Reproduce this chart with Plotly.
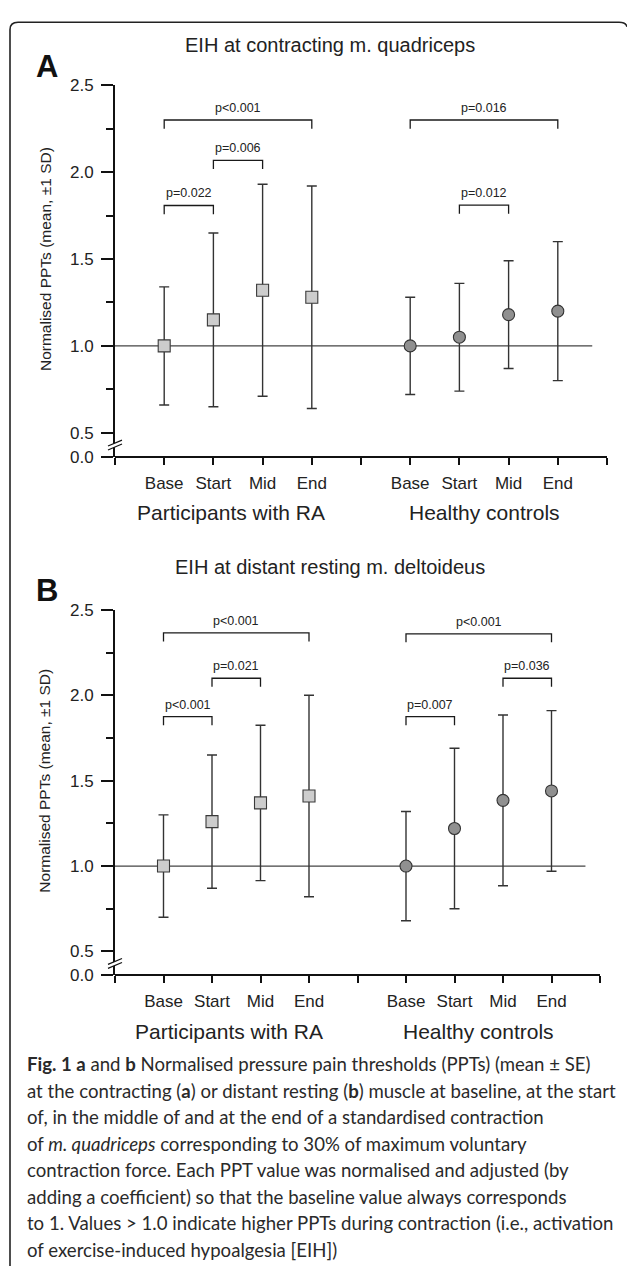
import plotly.graph_objects as go

# ---------------- data ----------------
timepoints = ["Base", "Start", "Mid", "End"]
ra_pos = [1, 2, 3, 4]
hc_pos = [6, 7, 8, 9]
group_names = ["Participants with RA", "Healthy controls"]
group_centers = [2.36, 7.5]

a_title = "EIH at contracting m. quadriceps"
a_ra_mean = [1.00, 1.15, 1.32, 1.28]
a_ra_sd = [0.34, 0.50, 0.61, 0.64]
a_hc_mean = [1.00, 1.05, 1.18, 1.20]
a_hc_sd = [0.28, 0.31, 0.31, 0.40]
a_brackets = [(1, 4, 2.30, "p<0.001"), (2, 3, 2.068, "p=0.006"), (1, 2, 1.808, "p=0.022"),
              (6, 9, 2.30, "p=0.016"), (7, 8, 1.81, "p=0.012")]

b_title = "EIH at distant resting m. deltoideus"
b_ra_mean = [1.00, 1.26, 1.37, 1.41]
b_ra_sd = [0.30, 0.39, 0.455, 0.59]
b_hc_mean = [1.00, 1.22, 1.385, 1.44]
b_hc_sd = [0.32, 0.47, 0.50, 0.47]
b_brackets = [(1, 4, 2.365, "p<0.001"), (2, 3, 2.10, "p=0.021"), (1, 2, 1.875, "p<0.001"),
              (6, 9, 2.36, "p<0.001"), (8, 9, 2.10, "p=0.036"), (6, 7, 1.875, "p=0.007")]

y_ticks = [0.5, 1.0, 1.5, 2.0, 2.5]
y_minor = [0.75, 1.25, 1.75, 2.25]
y_break_ticks = [0.0]
y_title = "Normalised PPTs (mean, \u00b11 SD)"

caption_lines = [
    "<b>Fig. 1 a</b> and <b>b</b> Normalised pressure pain thresholds (PPTs) (mean \u00b1 SE)",
    "at the contracting (<b>a</b>) or distant resting (<b>b</b>) muscle at baseline, at the start",
    "of, in the middle of and at the end of a standardised contraction",
    "of <i>m. quadriceps</i> corresponding to 30% of maximum voluntary",
    "contraction force. Each PPT value was normalised and adjusted (by",
    "adding a coefficient) so that the baseline value always corresponds",
    "to 1. Values > 1.0 indicate higher PPTs during contraction (i.e., activation",
    "of exercise-induced hypoalgesia [EIH])",
]

# ---------------- geometry ----------------
W, H = 627, 1276
def fx(px):
    return px / W
def fy(py):
    return 1 - py / H

FONT = "Liberation Sans, Arial, sans-serif"
CAP_FONT = "Lato, Noto Sans, sans-serif"
INK = "#222222"

panels = [
    dict(letter="A", title=a_title, ra_m=a_ra_mean, ra_s=a_ra_sd, hc_m=a_hc_mean, hc_s=a_hc_sd,
         br=a_brackets, x0=115, x1=607, ytop=77.4, yhalf=430.2, yzero=455,
         title_y=36.5, letter_y=58, group_y=511, xa="x", ya="y", yb="y3"),
    dict(letter="B", title=b_title, ra_m=b_ra_mean, ra_s=b_ra_sd, hc_m=b_hc_mean, hc_s=b_hc_sd,
         br=b_brackets, x0=115, x1=600, ytop=610, yhalf=956.7, yzero=981,
         title_y=566, letter_y=590, group_y=1038, xa="x2", ya="y2", yb="y4"),
]

fig = go.Figure()
shapes = []
annotations = []
layout_axes = {}

xt_vals = list(range(0, 11))
xt_text = []
for v in xt_vals:
    if v in ra_pos:
        xt_text.append(timepoints[ra_pos.index(v)])
    elif v in hc_pos:
        xt_text.append(timepoints[hc_pos.index(v)])
    else:
        xt_text.append("")

AXC = "#111111"
for p in panels:
    xa, ya, yb = p["xa"], p["ya"], p["yb"]
    # reference line at 1.0
    shapes.append(dict(type="line", xref=xa, yref=ya, x0=0, x1=9.7, y0=1.0, y1=1.0,
                       line=dict(color="#444444", width=1.3), layer="below"))
    # brackets
    bx, by = [], []
    for (x1, x2, yv, lab) in p["br"]:
        bx += [x1, x1, x2, x2, None]
        by += [yv - 0.05, yv, yv, yv - 0.05, None]
        annotations.append(dict(x=(x1 + x2) / 2, y=yv, xref=xa, yref=ya, text=lab,
                                showarrow=False, yanchor="bottom", yshift=3,
                                font=dict(family=FONT, size=12.5, color=INK)))
    fig.add_trace(go.Scatter(x=bx, y=by, xaxis=xa, yaxis=ya, mode="lines",
                             line=dict(color="#1a1a1a", width=1.3),
                             hoverinfo="skip", showlegend=False))
    # RA squares
    fig.add_trace(go.Scatter(x=ra_pos, y=p["ra_m"], xaxis=xa, yaxis=ya, mode="markers",
                             error_y=dict(type="data", array=p["ra_s"], visible=True,
                                          color="#333333", thickness=1.4, width=5),
                             marker=dict(symbol="square", size=12, color="#cdcdcd",
                                         line=dict(color="#3a3a3a", width=1.1)),
                             showlegend=False))
    # HC circles
    fig.add_trace(go.Scatter(x=hc_pos, y=p["hc_m"], xaxis=xa, yaxis=ya, mode="markers",
                             error_y=dict(type="data", array=p["hc_s"], visible=True,
                                          color="#333333", thickness=1.4, width=5),
                             marker=dict(symbol="circle", size=12, color="#909090",
                                         line=dict(color="#333333", width=1.1)),
                             showlegend=False))
    # empty trace so the broken-axis stub (0.0) subplot is drawn
    fig.add_trace(go.Scatter(x=[None], y=[None], xaxis=xa, yaxis=yb, mode="markers",
                             hoverinfo="skip", showlegend=False))

    xkey = "xaxis" if xa == "x" else "xaxis" + xa[1:]
    ykey = "yaxis" if ya == "y" else "yaxis" + ya[1:]
    ybkey = "yaxis" + yb[1:]
    layout_axes[xkey] = dict(domain=[fx(p["x0"]), fx(p["x1"])], range=[0, 10], anchor="free",
                             position=fy(p["yzero"]), showline=True, linewidth=2, linecolor=AXC,
                             ticks="outside", ticklen=7, tickwidth=2, tickcolor=AXC,
                             tickvals=xt_vals, ticktext=xt_text, ticklabelstandoff=3,
                             tickfont=dict(family=FONT, size=17, color=INK),
                             showgrid=False, zeroline=False, fixedrange=True)
    layout_axes[ykey] = dict(domain=[fy(p["yhalf"]), fy(p["ytop"])], range=[0.5, 2.5], anchor=xa,
                             showline=True, linewidth=2, linecolor=AXC,
                             ticks="outside", ticklen=12, tickwidth=2, tickcolor=AXC,
                             tickvals=y_ticks, tickformat=".1f", ticklabelstandoff=4,
                             tickfont=dict(family=FONT, size=17, color=INK),
                             minor=dict(tickvals=y_minor, ticks="outside", ticklen=7,
                                        tickwidth=2, tickcolor=AXC),
                             showgrid=False, zeroline=False, fixedrange=True)
    layout_axes[ybkey] = dict(domain=[fy(p["yzero"]), fy(p["yhalf"])], range=[0, 0.5], anchor=xa,
                              showline=True, linewidth=2, linecolor=AXC,
                              ticks="outside", ticklen=12, tickwidth=2, tickcolor=AXC,
                              tickvals=y_break_ticks, tickformat=".1f", ticklabelstandoff=4,
                              tickfont=dict(family=FONT, size=17, color=INK),
                              showgrid=False, zeroline=False, fixedrange=True)

    # axis break marks
    mid = (p["yhalf"] + p["yzero"]) / 2
    ax_x = p["x0"]
    shapes.append(dict(type="path", xref="paper", yref="paper",
                       path=f"M {fx(ax_x-7)},{fy(mid+1)} L {fx(ax_x+7)},{fy(mid-5)} "
                            f"L {fx(ax_x+7)},{fy(mid-1)} L {fx(ax_x-7)},{fy(mid+5)} Z",
                       fillcolor="white", line=dict(width=0)))
    for off in (-2, 2):
        shapes.append(dict(type="line", xref="paper", yref="paper",
                           x0=fx(ax_x - 7), y0=fy(mid + 3 + off), x1=fx(ax_x + 7), y1=fy(mid - 3 + off),
                           line=dict(color=AXC, width=1.2)))

    # title, letter, y title, group labels
    annotations.append(dict(x=fx(330), y=fy(p["title_y"]), xref="paper", yref="paper",
                            text=p["title"], showarrow=False, xanchor="center", yanchor="middle",
                            font=dict(family=FONT, size=20, color=INK)))
    annotations.append(dict(x=fx(46.5), y=fy(p["letter_y"]), xref="paper", yref="paper",
                            text="<b>" + p["letter"] + "</b>", showarrow=False,
                            xanchor="center", yanchor="middle",
                            font=dict(family=FONT, size=31, color="#111111")))
    annotations.append(dict(x=fx(45), y=fy((p["yhalf"] + p["ytop"]) / 2), xref="paper", yref="paper",
                            text=y_title, textangle=-90, showarrow=False,
                            xanchor="center", yanchor="middle",
                            font=dict(family=FONT, size=15.5, color=INK)))
    for gname, gc in zip(group_names, group_centers):
        annotations.append(dict(x=gc, y=fy(p["group_y"]), xref=xa, yref="paper", text=gname,
                                showarrow=False, xanchor="center", yanchor="middle",
                                font=dict(family=FONT, size=21, color=INK)))

# caption
cap_y0, cap_dy = 1071, 26.9
for i, line in enumerate(caption_lines):
    annotations.append(dict(x=fx(25), y=fy(cap_y0 + i * cap_dy), xref="paper", yref="paper",
                            text=line, showarrow=False, xanchor="left", yanchor="middle",
                            font=dict(family=CAP_FONT, size=18.6, color="#2a2a2a")))

# frame
shapes.append(dict(type="path", xref="paper", yref="paper",
                   path=f"M {fx(10)},{fy(1276)} L {fx(10)},{fy(21)} Q {fx(10)},{fy(13.5)} {fx(18)},{fy(13.5)} "
                        f"L {fx(619)},{fy(13.5)} Q {fx(626)},{fy(13.5)} {fx(627)},{fy(18)}",
                   line=dict(color="#222222", width=1.6)))

fig.update_layout(width=W, height=H, margin=dict(l=0, r=0, t=0, b=0),
                  paper_bgcolor="white", plot_bgcolor="white",
                  shapes=shapes, annotations=annotations, showlegend=False,
                  **layout_axes)

fig.write_html("out.html", config={"displayModeBar": False},
               post_script="document.body.style.margin='0';document.body.style.overflow='hidden';")
